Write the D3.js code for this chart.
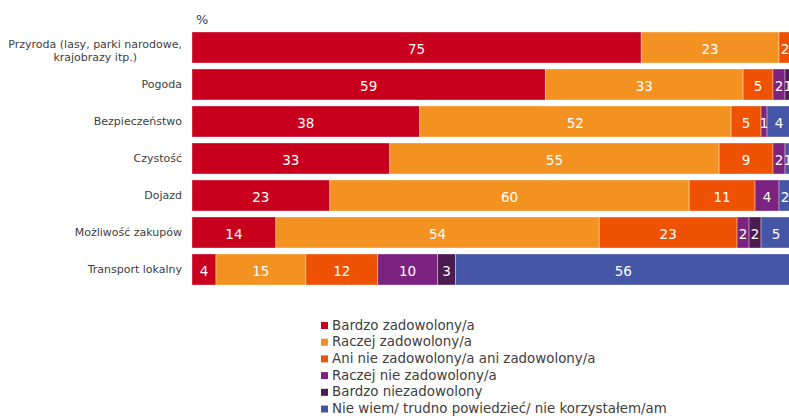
<!DOCTYPE html>
<html><head><meta charset="utf-8">
<script src="https://cdn.jsdelivr.net/npm/d3@7"></script>
<style>
html,body{margin:0;padding:0;background:#fff;overflow:hidden;}
svg{display:block;font-family:"DejaVu Sans",Verdana,sans-serif;}
</style></head>
<body>
<svg id="chart" width="789" height="416"></svg>
<script>
const categories = [
  "Przyroda (lasy, parki narodowe,|krajobrazy itp.)",
  "Pogoda",
  "Bezpieczeństwo",
  "Czystość",
  "Dojazd",
  "Możliwość zakupów",
  "Transport lokalny"
];
const seriesNames = [
  "Bardzo zadowolony/a",
  "Raczej zadowolony/a",
  "Ani nie zadowolony/a ani zadowolony/a",
  "Raczej nie zadowolony/a",
  "Bardzo niezadowolony",
  "Nie wiem/ trudno powiedzieć/ nie korzystałem/am"
];
const bardzoZadowolony   = [75, 59, 38, 33, 23, 14, 4];
const raczejZadowolony   = [23, 33, 52, 55, 60, 54, 15];
const ani                = [2, 5, 5, 9, 11, 23, 12];
const raczejNie          = [0, 2, 1, 2, 4, 2, 10];
const bardzoNie          = [0, 1, 0, 0, 0, 2, 3];
const nieWiem            = [0, 0, 4, 1, 2, 5, 56];
const colors = ["#C8001E", "#F39220", "#EF5205", "#7C2280", "#4C1B4F", "#4656A6"];
const unitLabel = "%";

const seriesValues = [bardzoZadowolony, raczejZadowolony, ani, raczejNie, bardzoNie, nieWiem];

const svg = d3.select("#chart");
const leftX = 192, rightX = 791;
const topY = 32, rowStep = 37, barH = 31;

const x = d3.scaleLinear().domain([0, 100]).range([leftX, rightX]);
const pIn = (rowStep - barH) / rowStep;
const y = d3.scaleBand().domain(d3.range(categories.length))
  .range([topY - (rowStep - barH) / 2, topY - (rowStep - barH) / 2 + rowStep * categories.length])
  .paddingInner(pIn).paddingOuter(pIn / 2);

const rows = categories.map((c, i) => {
  const o = {i};
  seriesNames.forEach((s, j) => o["s" + j] = seriesValues[j][i]);
  return o;
});
const stack = d3.stack().keys(seriesNames.map((s, j) => "s" + j));
const stacked = stack(rows);

const g = svg.append("g");
const lab = svg.append("g");
stacked.forEach((layer, j) => {
  const lg = g.append("g").attr("fill", colors[j]);
  layer.forEach((d, i) => {
    const v = d[1] - d[0];
    if (v <= 0) return;
    lg.append("rect")
      .attr("x", x(d[0]))
      .attr("y", y(i))
      .attr("width", x(d[1]) - x(d[0]))
      .attr("height", y.bandwidth())
      .attr("stroke", "rgba(255,255,255,0.35)")
      .attr("stroke-width", 1);
    lab.append("text")
      .attr("x", (x(d[0]) + x(d[1])) / 2)
      .attr("y", y(i) + y.bandwidth() / 2)
      .attr("dy", "0.46em")
      .attr("text-anchor", "middle")
      .attr("fill", "#fff")
      .attr("font-size", 13.5)
      .text(v);
  });
});

const yAxis = d3.axisLeft(y).tickSize(0).tickFormat(() => "");
const ag = svg.append("g").attr("transform", `translate(${leftX},0)`).call(yAxis);
ag.select(".domain").remove();
ag.selectAll(".tick").each(function(d) {
  const t = d3.select(this).select("text");
  const lines = categories[d].split("|");
  t.attr("fill", "#404040").attr("font-size", 11)
   .attr("dy", null).text(null)
   .attr("font-family", '"DejaVu Sans",Verdana,sans-serif');
  if (lines.length === 1) {
    t.attr("x", -10).attr("text-anchor", "end").attr("dy", "0.36em").text(lines[0]);
  } else {
    const spans = lines.map((ln, k) => t.append("tspan")
      .attr("y", (k - (lines.length - 1) / 2) * 13.5 + 3)
      .attr("dy", "0.36em").text(ln));
    const w = d3.max(spans, s => s.node().getComputedTextLength());
    t.attr("text-anchor", "middle");
    spans.forEach(s => s.attr("x", -10 - w / 2));
  }
});

svg.append("text").attr("x", 196).attr("y", 24).attr("fill", "#404040")
  .attr("font-size", 13).text(unitLabel);

const leg = svg.append("g");
seriesNames.forEach((s, j) => {
  const yy = 322 + j * 16.7;
  leg.append("rect").attr("x", 321).attr("y", yy).attr("width", 7).attr("height", 7).attr("fill", colors[j]);
  leg.append("text").attr("x", 332).attr("y", yy + 7.5).attr("fill", "#404040")
    .attr("font-size", 13.4).text(s);
});
</script>
</body></html>
